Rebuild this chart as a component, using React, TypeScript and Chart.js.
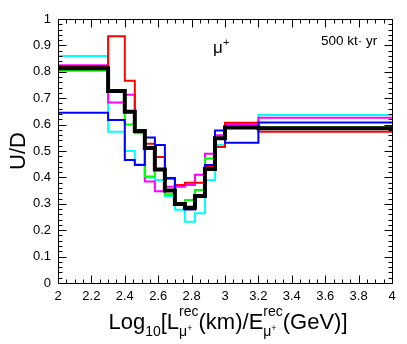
import { useEffect, useRef } from 'react';
import { Chart, registerables } from 'chart.js';

Chart.register(...registerables);

// Bin edges of the histograms (log10 L/E)
const binEdges = [2, 2.3, 2.4, 2.46, 2.52, 2.58, 2.64, 2.7, 2.76, 2.82, 2.88, 2.94, 3.0, 3.2, 4.0];

// Bin contents (U/D) per histogram
const blackVals = [0.813, 0.727, 0.649, 0.576, 0.511, 0.43, 0.35, 0.299, 0.285, 0.33, 0.432, 0.548, 0.589, 0.586];
const redVals = [0.822, 0.935, 0.766, 0.58, 0.527, 0.477, 0.395, 0.371, 0.38, 0.38, 0.44, 0.515, 0.607, 0.573];
const magentaVals = [0.825, 0.684, 0.713, 0.58, 0.384, 0.348, 0.365, 0.365, 0.371, 0.41, 0.49, 0.56, 0.6, 0.626];
const blueVals = [0.645, 0.617, 0.466, 0.447, 0.551, 0.523, 0.398, 0.302, 0.278, 0.33, 0.447, 0.578, 0.531, 0.608];
const cyanVals = [0.86, 0.573, 0.5, 0.45, 0.4, 0.39, 0.33, 0.277, 0.232, 0.264, 0.39, 0.523, 0.597, 0.636];
const greenVals = [0.804, 0.727, 0.6, 0.567, 0.403, 0.43, 0.336, 0.3, 0.314, 0.352, 0.472, 0.548, 0.592, 0.59];

// Axis tick labels
const xTickLabels = ['2', '2.2', '2.4', '2.6', '2.8', '3', '3.2', '3.4', '3.6', '3.8', '4'];
const yTickLabels = ['0', '0.1', '0.2', '0.3', '0.4', '0.5', '0.6', '0.7', '0.8', '0.9', '1'];

const FONT = '"Liberation Sans", Arial, Helvetica, sans-serif';

function histPoints(vals: number[]) {
  return binEdges.map((e, i) => ({ x: e, y: vals[Math.min(i, vals.length - 1)] }));
}

const frameTicks = {
  id: 'frameTicks',
  afterDatasetsDraw(chart: any) {
    const { ctx, chartArea: a, scales } = chart;
    const x = scales.x;
    const y = scales.y;
    ctx.save();
    ctx.strokeStyle = '#000';
    ctx.lineWidth = 1;
    ctx.beginPath();
    const L = Math.round(a.left) + 0.5;
    const R = Math.round(a.right) + 0.5;
    const T = Math.round(a.top) + 0.5;
    const B = Math.round(a.bottom) + 0.5;
    ctx.moveTo(L, T);
    ctx.lineTo(R, T);
    ctx.lineTo(R, B);
    ctx.lineTo(L, B);
    ctx.closePath();
    for (let i = 0; i <= 40; i++) {
      const v = 2 + i * 0.05;
      const px = Math.round(x.getPixelForValue(v)) + 0.5;
      const len = i % 4 === 0 ? 8 : 4;
      ctx.moveTo(px, B);
      ctx.lineTo(px, B - len);
      ctx.moveTo(px, T);
      ctx.lineTo(px, T + len);
    }
    for (let i = 0; i <= 50; i++) {
      const v = i * 0.02;
      const py = Math.round(y.getPixelForValue(v)) + 0.5;
      const len = i % 5 === 0 ? 8 : 4;
      ctx.moveTo(L, py);
      ctx.lineTo(L + len, py);
      ctx.moveTo(R, py);
      ctx.lineTo(R - len, py);
    }
    ctx.stroke();
    ctx.restore();
  },
};

const texts = {
  id: 'texts',
  afterDraw(chart: any) {
    const { ctx, chartArea: a } = chart;
    ctx.save();
    ctx.fillStyle = '#000';
    ctx.textBaseline = 'alphabetic';
    ctx.textAlign = 'left';

    // Y title
    ctx.save();
    ctx.translate(25, (a.top + a.bottom) / 2);
    ctx.rotate(-Math.PI / 2);
    ctx.textAlign = 'center';
    ctx.font = `22px ${FONT}`;
    ctx.fillText('U/D', 0, 0);
    ctx.restore();

    // X title with sub/superscripts
    const big = `22px ${FONT}`;
    const small = `14px ${FONT}`;
    const tiny = `9px ${FONT}`;
    const base = 329;
    const measure = (t: string, f: string) => {
      ctx.font = f;
      return ctx.measureText(t).width;
    };
    const wLog = measure('Log', big);
    const w10 = measure('10', small);
    const wL = measure('[L', big);
    const wRec = measure('rec', small);
    const wMu = measure('\u03bc', small) + measure('+', tiny);
    const wStack = Math.max(wRec, wMu);
    const wKm = measure('(km)/E', big);
    const wGeV = measure('(GeV)]', big);
    const total = wLog + w10 + wL + wStack + wKm + wStack + wGeV;
    let cx = (a.left + a.right) / 2 - total / 2 + 3;
    const put = (t: string, f: string, xx: number, yy: number) => {
      ctx.font = f;
      ctx.fillText(t, xx, yy);
    };
    put('Log', big, cx, base); cx += wLog;
    put('10', small, cx, base + 7); cx += w10;
    put('[L', big, cx, base); cx += wL;
    const stack = (x0: number) => {
      put('rec', small, x0, base - 13);
      put('\u03bc', small, x0, base + 7);
      put('+', tiny, x0 + measure('\u03bc', small), base + 2);
    };
    stack(cx); cx += wStack;
    put('(km)/E', big, cx, base); cx += wKm;
    stack(cx); cx += wStack;
    put('(GeV)]', big, cx, base);

    // mu+ label
    put('\u03bc', `17px ${FONT}`, 213, 53);
    put('+', `11px ${FONT}`, 223, 46);

    // exposure
    put('500 kt\u00b7 yr', `13.5px ${FONT}`, 321, 45);
    ctx.restore();
  },
};

export default function App() {
  const ref = useRef<HTMLCanvasElement | null>(null);

  useEffect(() => {
    if (!ref.current) return;
    const mk = (label: string, vals: number[], color: string, width: number) => ({
      label,
      data: histPoints(vals),
      borderColor: color,
      backgroundColor: color,
      borderWidth: width,
      pointRadius: 0,
      stepped: 'before' as const,
      fill: false,
      tension: 0,
      borderCapStyle: 'butt' as const,
      borderJoinStyle: 'miter' as const,
    });
    const chart = new Chart(ref.current, {
      type: 'line',
      data: {
        datasets: [
          mk('black', blackVals, '#000000', 4),
          mk('blue', blueVals, '#0000ff', 2),
          mk('red', redVals, '#ff0000', 2),
          mk('green', greenVals, '#00ff00', 2),
          mk('magenta', magentaVals, '#ff00ff', 2),
          mk('cyan', cyanVals, '#00ffff', 2),
        ],
      },
      options: {
        animation: false,
        responsive: true,
        maintainAspectRatio: false,
        layout: { padding: { top: 19, right: 15, left: 0, bottom: 0 } },
        plugins: { legend: { display: false }, tooltip: { enabled: false } },
        scales: {
          x: {
            type: 'linear',
            min: 2,
            max: 4,
            grid: { display: false, drawTicks: false },
            border: { display: false },
            afterFit: (s: any) => { s.height = 61; },
            ticks: {
              stepSize: 0.2,
              padding: 6,
              color: '#000',
              maxRotation: 0,
              autoSkip: false,
              font: { family: FONT, size: 13 },
              callback: (v: any) => xTickLabels[Math.round((Number(v) - 2) / 0.2)] ?? '',
            },
          },
          y: {
            type: 'linear',
            min: 0,
            max: 1,
            grid: { display: false, drawTicks: false },
            border: { display: false },
            afterFit: (s: any) => { s.width = 58; },
            ticks: {
              stepSize: 0.1,
              padding: 7,
              color: '#000',
              autoSkip: false,
              font: { family: FONT, size: 13 },
              callback: (v: any) => yTickLabels[Math.round(Number(v) / 0.1)] ?? '',
            },
          },
        },
      },
      plugins: [frameTicks, texts],
    });
    return () => chart.destroy();
  }, []);

  return (
    <div style={{ position: 'fixed', left: 0, top: 0, width: 407, height: 344, background: '#fff' }}>
      <canvas ref={ref} />
    </div>
  );
}
